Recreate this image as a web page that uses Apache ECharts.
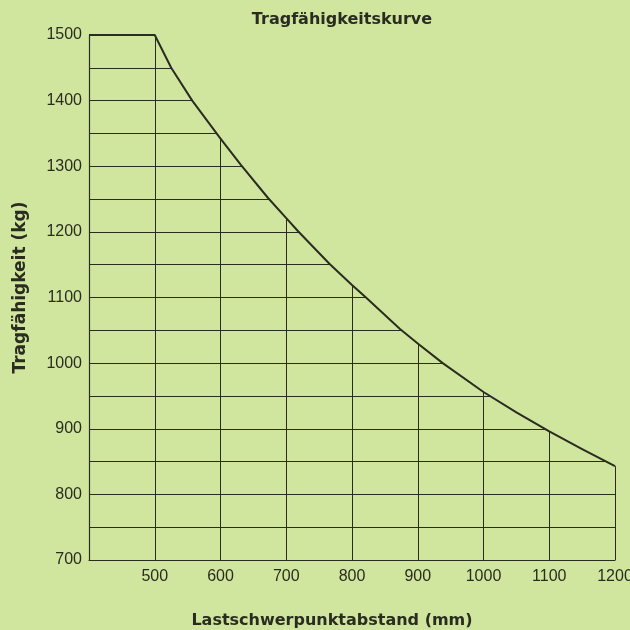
<!DOCTYPE html>
<html>
<head>
<meta charset="utf-8">
<script src="https://cdn.jsdelivr.net/npm/echarts@6/dist/echarts.min.js"></script>
<style>
  html, body { margin: 0; padding: 0; background: #d0e69f; }
  #chart { width: 630px; height: 630px; }
</style>
</head>
<body>
<div id="chart"></div>
<script>
  // Lastschwerpunktabstand (mm) -> Tragfähigkeit (kg)
  var distances = [400, 500, 525, 557, 600, 631, 672, 700, 718, 766, 800, 820, 873, 900, 938, 1000, 1050, 1100, 1150, 1200];
  var capacities = [1500, 1500, 1450, 1400, 1342, 1302, 1252, 1221, 1201, 1151, 1119, 1101, 1052, 1030, 1000, 956, 925, 896, 869, 843];
  var xTicks = [500, 600, 700, 800, 900, 1000, 1100, 1200];
  var yTicks = [700, 800, 900, 1000, 1100, 1200, 1300, 1400, 1500];

  var bg = '#d0e69f';
  var ink = '#2a2c20';
  var yMax = 1500;

  var curve = distances.map(function (d, i) { return [d, capacities[i]]; });
  var lastX = distances[distances.length - 1];
  var lastY = capacities[capacities.length - 1];

  // grid line colours: hide the top line at 1500 (17 lines, 700..1500 step 50)
  var yGridColors = [];
  for (var v = 700; v <= 1500; v += 50) yGridColors.push(v === 1500 ? 'rgba(0,0,0,0)' : ink);
  // right edge line is drawn by markLine only up to the curve
  var xGridColors = [];
  for (var u = 400; u <= 1200; u += 100) xGridColors.push(u === 1200 ? 'rgba(0,0,0,0)' : ink);

  var myChart = echarts.init(document.getElementById('chart'));
  var option = {
    backgroundColor: bg,
    animation: false,
    title: {
      text: 'Tragfähigkeitskurve',
      left: 337,
      textAlign: 'center',
      top: 7,
      textStyle: { fontFamily: 'DejaVu Sans', fontWeight: 'bold', fontSize: 16, color: ink }
    },
    grid: { left: 89, right: 15, top: 35, bottom: 70, outerBoundsMode: 'none', containLabel: false },
    xAxis: {
      type: 'value',
      min: 400,
      max: 1200,
      interval: 100,
      name: 'Lastschwerpunktabstand (mm)',
      nameLocation: 'middle',
      nameGap: 53,
      nameTextStyle: { fontFamily: 'DejaVu Sans', fontWeight: 'bold', fontSize: 16, color: ink, padding: [0, 40, 0, 0] },
      axisLine: { show: true, lineStyle: { color: ink, width: 1.2 } },
      axisTick: { show: false },
      axisLabel: {
        margin: 9,
        fontFamily: 'Liberation Sans',
        fontSize: 16,
        color: ink,
        formatter: function (val) { return xTicks.indexOf(val) >= 0 ? String(val) : ''; }
      },
      splitLine: { show: true, lineStyle: { color: xGridColors, width: 1 } }
    },
    yAxis: {
      type: 'value',
      min: 700,
      max: yMax,
      interval: 50,
      name: 'Tragfähigkeit (kg)',
      nameLocation: 'middle',
      nameGap: 60,
      nameTextStyle: { fontFamily: 'DejaVu Sans', fontWeight: 'bold', fontSize: 17, color: ink, padding: [0, 0, 0, 20] },
      axisLine: { show: true, lineStyle: { color: ink, width: 1.2 } },
      axisTick: { show: false },
      axisLabel: {
        margin: 7,
        fontFamily: 'Liberation Sans',
        fontSize: 16,
        color: ink,
        formatter: function (val) { return yTicks.indexOf(val) >= 0 ? String(val) : ''; }
      },
      splitLine: { show: true, lineStyle: { color: yGridColors, width: 1 } }
    },
    series: [
      {
        type: 'line',
        data: curve,
        symbol: 'none',
        smooth: false,
        lineStyle: { color: ink, width: 2, join: 'round' },
        // fill above the curve with background so the grid only shows under it
        areaStyle: { color: bg, opacity: 1, origin: 'end' },
        markLine: {
          silent: true,
          symbol: 'none',
          label: { show: false },
          lineStyle: { color: ink, width: 1, type: 'solid' },
          data: [[{ coord: [lastX, 700] }, { coord: [lastX, lastY] }]]
        }
      }
    ]
  };
  myChart.setOption(option);
</script>
</body>
</html>
